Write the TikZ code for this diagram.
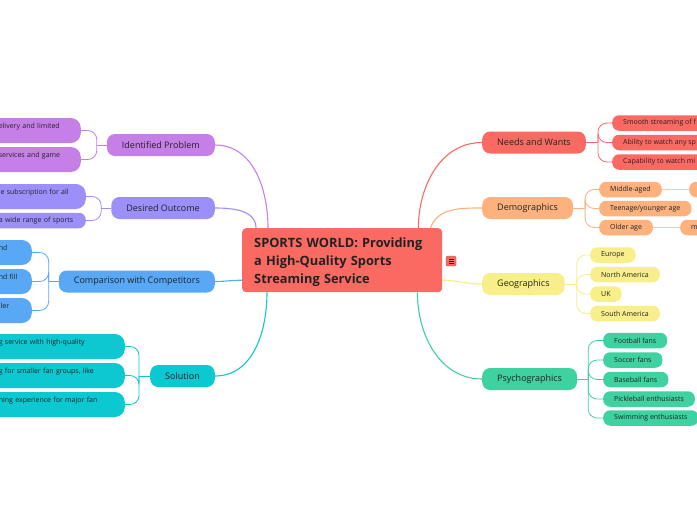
\documentclass[tikz,border=0pt]{standalone}
\usepackage{fontspec}
\setmainfont{Open Sans}
\usetikzlibrary{positioning}
\definecolor{topicred}{RGB}{250,106,99}
\definecolor{probpurple}{RGB}{199,127,232}
\definecolor{outcomeviolet}{RGB}{157,143,250}
\definecolor{compblue}{RGB}{88,168,246}
\definecolor{solteal}{RGB}{11,200,209}
\definecolor{demoorange}{RGB}{253,178,126}
\definecolor{geoyellow}{RGB}{248,238,138}
\definecolor{psychgreen}{RGB}{62,210,160}
\definecolor{txt}{RGB}{34,34,34}

\begin{document}
\begin{tikzpicture}[x=1pt,y=-1pt,
    topic/.style={rounded corners=4pt,text width=176pt,minimum height=64pt,align=left,inner xsep=12pt,font=\fontsize{12.8}{18}\selectfont\bfseries,text=txt},
    branch/.style={rounded corners=8pt,minimum height=22pt,inner xsep=15pt,inner ysep=0pt,font=\fontsize{9}{11}\selectfont,text=txt},
    leaf/.style={rounded corners=7pt,minimum height=15.5pt,inner xsep=11pt,inner ysep=0pt,font=\fontsize{7}{9}\selectfont,text=txt},
    cutleaf/.style={leaf,anchor=east,align=left,text width=#1},
    tallleaf/.style={cutleaf=#1,rounded corners=10pt,inner ysep=3pt,text height=7.5pt,text depth=11.5pt},
    link/.style={line width=1.1pt},
    twig/.style={line width=0.8pt,rounded corners=9pt}
]
\useasboundingbox (0,0) rectangle (697,520);
\clip (0,0) rectangle (697,520);
\fill[white] (0,0) rectangle (697,520);

% central topic
\node[topic,fill=topicred,anchor=north west] (topic) at (242,228) {\rule{0pt}{14pt}SPORTS WORLD: Providing\\a High-Quality Sports\\Streaming Service};
\node[fill=topicred,draw=topicred!70!black,line width=0.4pt,rounded corners=1.5pt,minimum width=10pt,minimum height=10pt,inner sep=0pt] (notes) at (451,261) {};
\foreach \dy in {-2.2,0,2.2}
  \draw[txt,line width=0.6pt] ([xshift=-2.5pt,yshift=\dy pt]notes.center) -- ++(5,0);

% left branches
\node[branch,fill=probpurple,anchor=east] (problem) at (215,145) {Identified Problem};
\node[branch,fill=outcomeviolet,anchor=east] (outcome) at (215,208) {Desired Outcome};
\node[branch,fill=compblue,anchor=east] (comparison) at (215,281.5) {Comparison with Competitors};
\node[branch,fill=solteal,anchor=east] (solution) at (215,376) {Solution};

% right branches
\node[branch,fill=topicred,anchor=west] (needs) at (482,142.5) {Needs and Wants};
\node[branch,fill=demoorange,anchor=west] (demo) at (482,208) {Demographics};
\node[branch,fill=geoyellow,anchor=west] (geo) at (482,284) {Geographics};
\node[branch,fill=psychgreen,anchor=west] (psych) at (482,379) {Psychographics};

% branch links
\draw[link,probpurple] (problem.east) to[out=0,in=90] ([xshift=26pt]topic.north west);
\draw[link,outcomeviolet] (outcome.east) to[out=0,in=90] ([xshift=14pt]topic.north west);
\draw[link,compblue] (comparison.east) to[out=0,in=180] ([yshift=-20pt]topic.west);
\draw[link,solteal] (solution.east) to[out=0,in=-90] ([xshift=25pt]topic.south west);
\draw[link,topicred] (needs.west) to[out=180,in=90] ([xshift=-24pt]topic.north east);
\draw[link,demoorange] (demo.west) to[out=180,in=70] ([xshift=-12pt]topic.north east);
\draw[link,geoyellow] (geo.west) to[out=180,in=0] ([yshift=-20pt]topic.east);
\draw[link,psychgreen] (psych.west) to[out=180,in=-90] ([xshift=-25pt]topic.south east);

% identified problem
\node[tallleaf=71pt,fill=probpurple] (problem-1) at (81,130.5) {elivery and limited};
\node[tallleaf=71pt,fill=probpurple] (problem-2) at (81,159.5) {services and game};
\draw[twig,probpurple] (problem.west) -- ++(-10,0) coordinate (problem-j);
\foreach \i in {1,2} \draw[twig,probpurple] (problem-j) |- (problem-\i.east);

% desired outcome
\node[tallleaf=76pt,fill=outcomeviolet] (outcome-1) at (86,196.5) {le subscription for all};
\node[cutleaf=76pt,fill=outcomeviolet] (outcome-2) at (86,220.5) {a wide range of sports};
\draw[twig,outcomeviolet] (outcome.west) -- ++(-10,0) coordinate (outcome-j);
\foreach \i in {1,2} \draw[twig,outcomeviolet] (outcome-j) |- (outcome-\i.east);

% comparison with competitors
\node[tallleaf=22pt,fill=compblue] (comparison-1) at (32,252.5) {nd};
\node[tallleaf=22pt,fill=compblue] (comparison-2) at (32,281.5) {nd fill};
\node[tallleaf=22pt,fill=compblue] (comparison-3) at (32,310.5) {ller};
\draw[twig,compblue] (comparison.west) -- ++(-10,0) coordinate (comparison-j);
\foreach \i in {1,2,3} \draw[twig,compblue] (comparison-j) |- (comparison-\i.east);

% solution
\node[tallleaf=115pt,fill=solteal] (solution-1) at (125,346.5) {g service with high-quality};
\node[tallleaf=115pt,fill=solteal] (solution-2) at (125,375.5) {g for smaller fan groups, like};
\node[tallleaf=115pt,fill=solteal] (solution-3) at (125,404.5) {ning experience for major fan};
\draw[twig,solteal] (solution.west) -- ++(-11,0) coordinate (solution-j);
\foreach \i in {1,2,3} \draw[twig,solteal] (solution-j) |- (solution-\i.east);

% needs and wants
\node[leaf,fill=topicred,anchor=west] (needs-1) at (612,123) {Smooth streaming of f};
\node[leaf,fill=topicred,anchor=west] (needs-2) at (612,142.5) {Ability to watch any sp};
\node[leaf,fill=topicred,anchor=west] (needs-3) at (612,162) {Capability to watch mi};
\draw[twig,topicred] (needs.east) -- ++(12,0) coordinate (needs-j);
\foreach \i in {1,2,3} \draw[twig,topicred] (needs-j) |- (needs-\i.west);

% demographics
\node[leaf,fill=demoorange,anchor=west] (demo-1) at (599,189.5) {Middle-aged};
\node[leaf,fill=demoorange,anchor=west] (demo-2) at (599,208.5) {Teenage/younger age};
\node[leaf,fill=demoorange,anchor=west] (demo-3) at (599,227.5) {Older age};
\node[leaf,fill=demoorange,anchor=west,minimum width=40pt] (demo-1-1) at (689,189.5) {};
\node[leaf,fill=demoorange,anchor=west,minimum width=40pt,align=left,text width=30pt] (demo-3-1) at (680,227.5) {m};
\draw[twig,demoorange] (demo.east) -- ++(12,0) coordinate (demo-j);
\foreach \i in {1,2,3} \draw[twig,demoorange] (demo-j) |- (demo-\i.west);
\draw[twig,demoorange!70] (demo-1.east) -- (demo-1-1.west);
\draw[twig,demoorange!70] (demo-3.east) -- (demo-3-1.west);

% geographics
\node[leaf,fill=geoyellow,anchor=west] (geo-1) at (590,255) {Europe};
\node[leaf,fill=geoyellow,anchor=west] (geo-2) at (590,274.5) {North America};
\node[leaf,fill=geoyellow,anchor=west] (geo-3) at (590,294) {UK};
\node[leaf,fill=geoyellow,anchor=west] (geo-4) at (590,313.5) {South America};
\draw[twig,geoyellow] (geo.east) -- ++(12,0) coordinate (geo-j);
\foreach \i in {1,...,4} \draw[twig,geoyellow] (geo-j) |- (geo-\i.west);

% psychographics
\node[leaf,fill=psychgreen,anchor=west] (psych-1) at (603,340.5) {Football fans};
\node[leaf,fill=psychgreen,anchor=west] (psych-2) at (603,360) {Soccer fans};
\node[leaf,fill=psychgreen,anchor=west] (psych-3) at (603,379.5) {Baseball fans};
\node[leaf,fill=psychgreen,anchor=west] (psych-4) at (603,399) {Pickleball enthusiasts};
\node[leaf,fill=psychgreen,anchor=west] (psych-5) at (603,418) {Swimming enthusiasts};
\draw[twig,psychgreen] (psych.east) -- ++(11,0) coordinate (psych-j);
\foreach \i in {1,...,5} \draw[twig,psychgreen] (psych-j) |- (psych-\i.west);
\end{tikzpicture}
\end{document}
